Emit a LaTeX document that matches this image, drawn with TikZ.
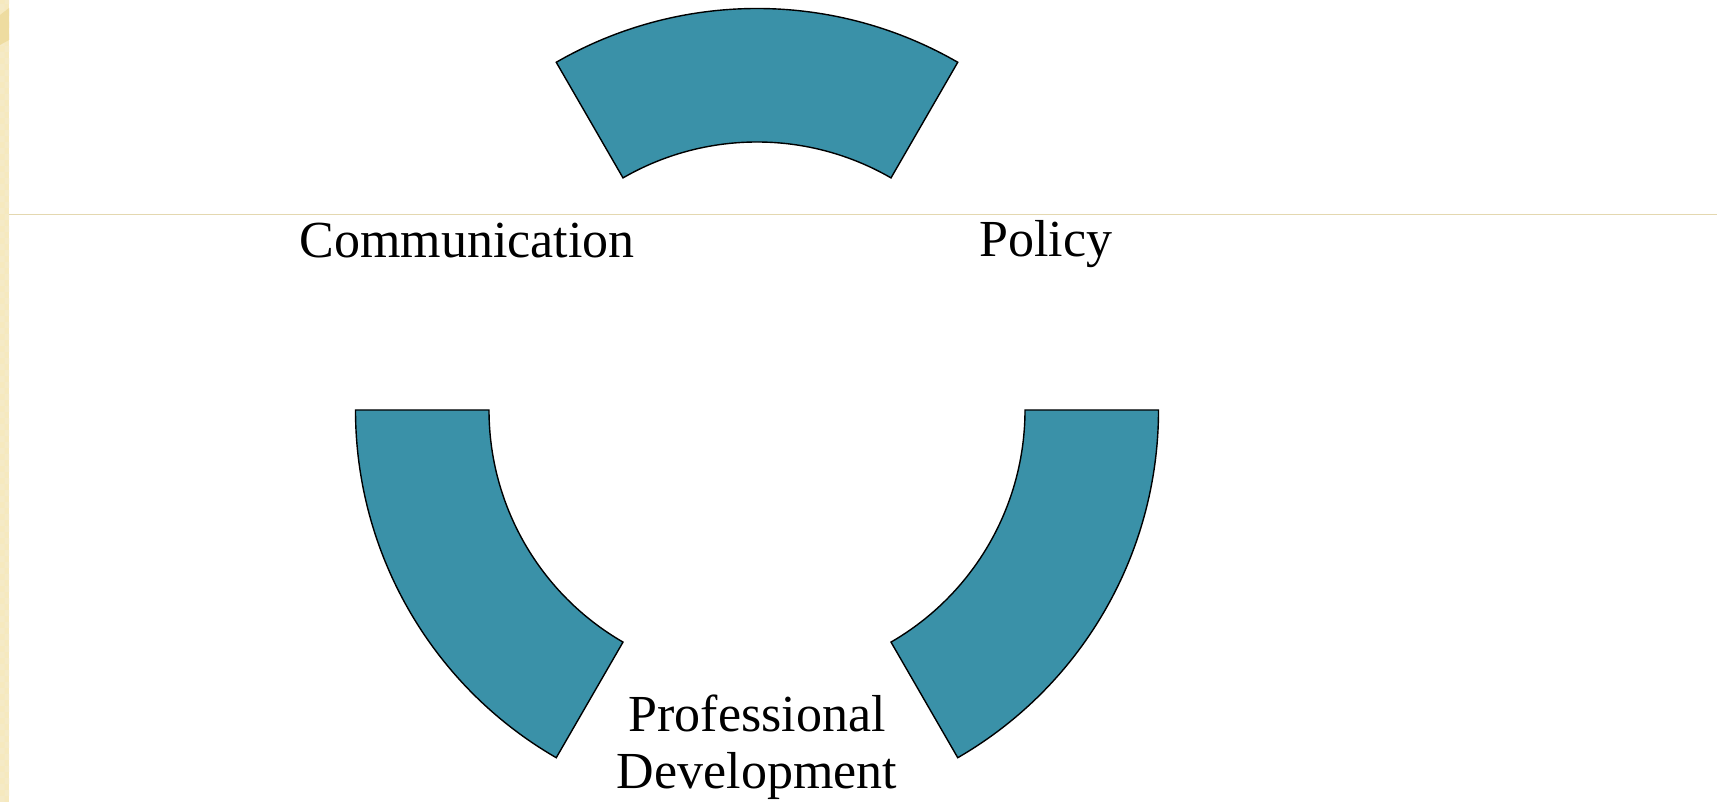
\documentclass[tikz,border=0pt]{standalone}
\usepackage{fontspec}
\setmainfont{Liberation Serif}
\usepackage{tikz}
\usetikzlibrary{positioning,calc}
\definecolor{ringteal}{RGB}{58,145,168}
\definecolor{paper}{RGB}{246,233,190}
\definecolor{paperdark}{RGB}{238,220,160}
\definecolor{ruleline}{RGB}{228,216,176}
\tikzset{
  segment/.style ={draw=black,line width=1.4pt,fill=ringteal,line join=miter},
  label/.style   ={font=\fontsize{52}{57}\selectfont,align=center,text=black,inner sep=0pt}
}

\begin{document}
\begin{tikzpicture}[x=1pt,y=1pt]
    \useasboundingbox (0,0) rectangle (1729,802);
    % slide background
    \fill[paper] (0,0) rectangle (9,802);
    \foreach \k in {0,...,66}
      \fill[paperdark!60] (0,{\k*12}) rectangle (4.5,{\k*12+6}) (4.5,{\k*12+6}) rectangle (9,{\k*12+12});
    \fill[paperdark] (0,757) -- (9,762) -- (9,794) -- (0,787) -- cycle;
    \draw[ruleline,line width=1pt] (9,587) -- (1717,587);
    % ring of three segments
    \coordinate (ctr) at (757,392);
    \foreach \a in {60,180,300}
      \draw[segment] ($(ctr)+(\a:401.5)$) arc[start angle=\a,end angle=\a+60,radius=401.5]
        -- ($(ctr)+(\a+60:268)$) arc[start angle=\a+60,end angle=\a,radius=268] -- cycle;
    % labels
    \node[label,anchor=base] (comm)   at (467,544) {Communication};
    \node[label,anchor=base] (policy) at (1046,545) {Policy};
    \node[label,anchor=base] (profdev) at (757,13) {Professional\\Development};
\end{tikzpicture}
\end{document}
